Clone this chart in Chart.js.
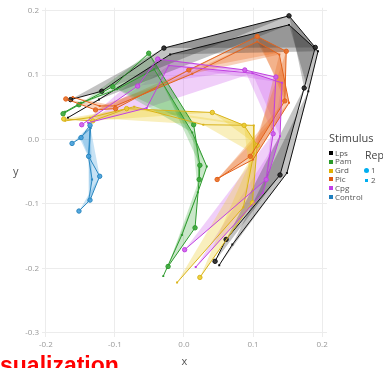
<!DOCTYPE html>
<html>
<head>
<meta charset="utf-8">
<script src="https://cdn.jsdelivr.net/npm/chart.js@4"></script>
<style>
  body { margin: 0; background: #fff; }
  #wrap { position: relative; width: 383px; height: 368px; overflow: hidden; font-family: "Open Sans", sans-serif; }
  #chart { position: absolute; left: 0; top: 0; }
  .lbl { position: absolute; white-space: nowrap; line-height: 1; }
  .key { position: absolute; width: 4px; height: 4px; }
</style>
</head>
<body>
<div id="wrap">
  <canvas id="chart" width="383" height="368"></canvas>
  <div class="lbl" style="left:13px;top:165px;font-size:11px;color:#555;">y</div>
  <div id="legend"></div>
  <div class="lbl" style="left:0px;top:354px;font-size:23px;font-weight:bold;color:#f00;font-family:'Liberation Sans',sans-serif;">sualization</div>
</div>
<script>
// tick values
var xTicks = [-0.2, -0.1, 0, 0.1, 0.2];
var yTicks = [-0.3, -0.2, -0.1, 0, 0.1, 0.2];

// legend labels
var stimuli = ["Lps", "Pam", "Grd", "Pic", "Cpg", "Control"];
var reps = ["1", "2"];

// trajectories [x, y], one array per stimulus and replicate
var lps1 = [[-0.164, 0.062], [-0.119, 0.075], [-0.029, 0.142], [0.152, 0.192], [0.190, 0.143], [0.174, 0.080], [0.139, -0.055], [0.061, -0.155], [0.045, -0.189]];
var lps2 = [[-0.168, 0.034], [-0.123, 0.062], [-0.020, 0.132], [0.152, 0.178], [0.194, 0.137], [0.180, 0.075], [0.149, -0.052], [0.070, -0.163], [0.051, -0.195]];

var pam1 = [[-0.175, 0.040], [-0.152, 0.054], [-0.103, 0.082], [-0.051, 0.134], [0.014, 0.023], [0.023, -0.040], [0.022, -0.062], [0.016, -0.137], [-0.023, -0.197]];
var pam2 = [[-0.172, 0.043], [-0.149, 0.057], [-0.097, 0.078], [-0.043, 0.109], [0.012, 0.011], [0.033, -0.042], [0.020, -0.082], [-0.003, -0.148], [-0.030, -0.212]];

var grd1 = [[-0.174, 0.032], [-0.132, 0.029], [-0.083, 0.048], [0.041, 0.042], [0.087, 0.022], [0.106, -0.009], [0.099, -0.098], [0.023, -0.214]];
var grd2 = [[-0.172, 0.029], [-0.136, 0.034], [-0.072, 0.051], [0.028, 0.023], [0.101, 0.022], [0.101, -0.022], [0.086, -0.105], [-0.010, -0.222]];

var pic1 = [[-0.171, 0.063], [-0.128, 0.046], [-0.099, 0.048], [0.007, 0.108], [0.106, 0.160], [0.148, 0.137], [0.146, 0.060], [0.096, -0.026], [0.048, -0.062]];
var pic2 = [[-0.161, 0.066], [-0.122, 0.052], [-0.100, 0.052], [0.012, 0.102], [0.106, 0.152], [0.138, 0.132], [0.152, 0.057], [0.100, -0.031], [0.049, -0.060]];

var cpg1 = [[-0.148, 0.023], [-0.067, 0.083], [-0.038, 0.125], [0.088, 0.108], [0.133, 0.097], [0.129, 0.009], [0.119, -0.062], [0.001, -0.171]];
var cpg2 = [[-0.139, 0.026], [-0.054, 0.049], [-0.022, 0.115], [0.099, 0.103], [0.142, 0.088], [0.139, 0.005], [0.114, -0.083], [0.017, -0.198]];

var ctl1 = [[-0.162, -0.006], [-0.149, 0.003], [-0.136, 0.022], [-0.138, -0.026], [-0.122, -0.057], [-0.136, -0.094], [-0.152, -0.111]];
var ctl2 = [[-0.151, 0.002], [-0.135, 0.018], [-0.138, -0.028], [-0.133, -0.062], [-0.138, -0.095]];

var lineColors = ["#111111", "#2e9a2e", "#d9b31a", "#e2621c", "#c040e0", "#2a87c0"];
var fillColors = ["rgba(40,40,40,0.28)", "rgba(60,170,60,0.28)", "rgba(235,205,50,0.32)", "rgba(232,112,40,0.32)", "rgba(205,95,235,0.3)", "rgba(70,160,220,0.3)"];
var legendColors = ["#000000", "#2a9a2a", "#e0b000", "#e05a10", "#c040e8", "#1f7fbf"];

var tracks = [[lps1, lps2], [pam1, pam2], [grd1, grd2], [pic1, pic2], [cpg1, cpg2], [ctl1, ctl2]];

function toPoints(arr) {
    return arr.map(function (p) { return { x: p[0], y: p[1] }; });
}

var datasets = [];
for (var s = tracks.length - 1; s >= 0; s--) {
    for (var r = 0; r < 2; r++) {
        datasets.push({
            label: stimuli[s] + " " + reps[r],
            data: toPoints(tracks[s][r]),
            showLine: true,
            borderColor: lineColors[s],
            borderWidth: 1,
            backgroundColor: lineColors[s],
            pointStyle: r == 0 ? "circle" : "rect",
            pointRadius: r == 0 ? 2.2 : 1.4,
            pointBorderWidth: r == 0 ? 1 : 0,
            pointBackgroundColor: r == 0 ? fillColors[s].replace(/0\.\d+\)$/, "0.9)") : lineColors[s],
            pointBorderColor: lineColors[s]
        });
    }
}

// shaded triangles over each run of three consecutive time points
var ribbons = {
    id: "ribbons",
    beforeDatasetsDraw: function (chart) {
        var ctx = chart.ctx, xs = chart.scales.x, ys = chart.scales.y, a = chart.chartArea;
        ctx.save();
        ctx.beginPath();
        ctx.rect(a.left, a.top, a.right - a.left, a.bottom - a.top);
        ctx.clip();
        for (var s = tracks.length - 1; s >= 0; s--) {
            ctx.fillStyle = fillColors[s];
            for (var r = 0; r < 2; r++) {
                var pts = tracks[s][r];
                for (var i = 0; i + 2 < pts.length; i++) {
                    ctx.beginPath();
                    ctx.moveTo(xs.getPixelForValue(pts[i][0]), ys.getPixelForValue(pts[i][1]));
                    ctx.lineTo(xs.getPixelForValue(pts[i + 1][0]), ys.getPixelForValue(pts[i + 1][1]));
                    ctx.lineTo(xs.getPixelForValue(pts[i + 2][0]), ys.getPixelForValue(pts[i + 2][1]));
                    ctx.closePath();
                    ctx.fill();
                }
            }
        }
        ctx.restore();
    }
};

new Chart(document.getElementById("chart"), {
    type: "scatter",
    data: { datasets: datasets },
    plugins: [ribbons],
    options: {
        responsive: false,
        animation: false,
        layout: { padding: { left: 0, right: 56, top: 5, bottom: 0 } },
        plugins: { legend: { display: false }, tooltip: { enabled: false } },
        scales: {
            x: {
                min: -0.2055, max: 0.207,
                afterFit: function (scale) { scale.height = 31; },
                afterBuildTicks: function (scale) { scale.ticks = xTicks.map(function (v) { return { value: v }; }); },
                ticks: { padding: 3, color: "#999", font: { family: "Open Sans", size: 8 }, maxRotation: 0,
                    callback: function (v) { return Number(v).toFixed(1); } },
                grid: { color: "#ececec", drawTicks: false },
                border: { display: false },
                title: { display: true, text: "x", color: "#555", padding: { top: 0, bottom: 0 }, font: { family: "Open Sans", size: 11 } }
            },
            y: {
                min: -0.3065, max: 0.2045,
                afterFit: function (scale) { scale.width = 42; },
                afterBuildTicks: function (scale) { scale.ticks = yTicks.map(function (v) { return { value: v }; }); },
                ticks: { padding: 3, color: "#999", font: { family: "Open Sans", size: 8 },
                    callback: function (v) { return Number(v).toFixed(1); } },
                grid: { color: "#ececec", drawTicks: false },
                border: { display: false }
            }
        }
    }
});

// legend on the right
var lg = document.getElementById("legend");
var html = '<div class="lbl" style="left:329px;top:132px;font-size:11px;color:#444;">Stimulus</div>';
for (var k = 0; k < stimuli.length; k++) {
    var cy = 153 + k * 8.8;
    html += '<div class="key" style="left:329px;top:' + (cy - 2) + 'px;background:' + legendColors[k] + ';"></div>';
    html += '<div class="lbl" style="left:335px;top:' + (cy - 4.5) + 'px;font-size:8px;color:#555;">' + stimuli[k] + '</div>';
}
html += '<div class="lbl" style="left:365px;top:150px;font-size:10.5px;color:#444;">Rep</div>';
html += '<div class="key" style="left:364px;top:168px;width:5px;height:5px;border-radius:50%;background:#00aef0;"></div>';
html += '<div class="lbl" style="left:371px;top:166px;font-size:8px;color:#555;">' + reps[0] + '</div>';
html += '<div class="key" style="left:365px;top:179px;width:3px;height:3px;background:#00aef0;"></div>';
html += '<div class="lbl" style="left:371px;top:176px;font-size:8px;color:#555;">' + reps[1] + '</div>';
lg.innerHTML = html;
</script>
</body>
</html>
